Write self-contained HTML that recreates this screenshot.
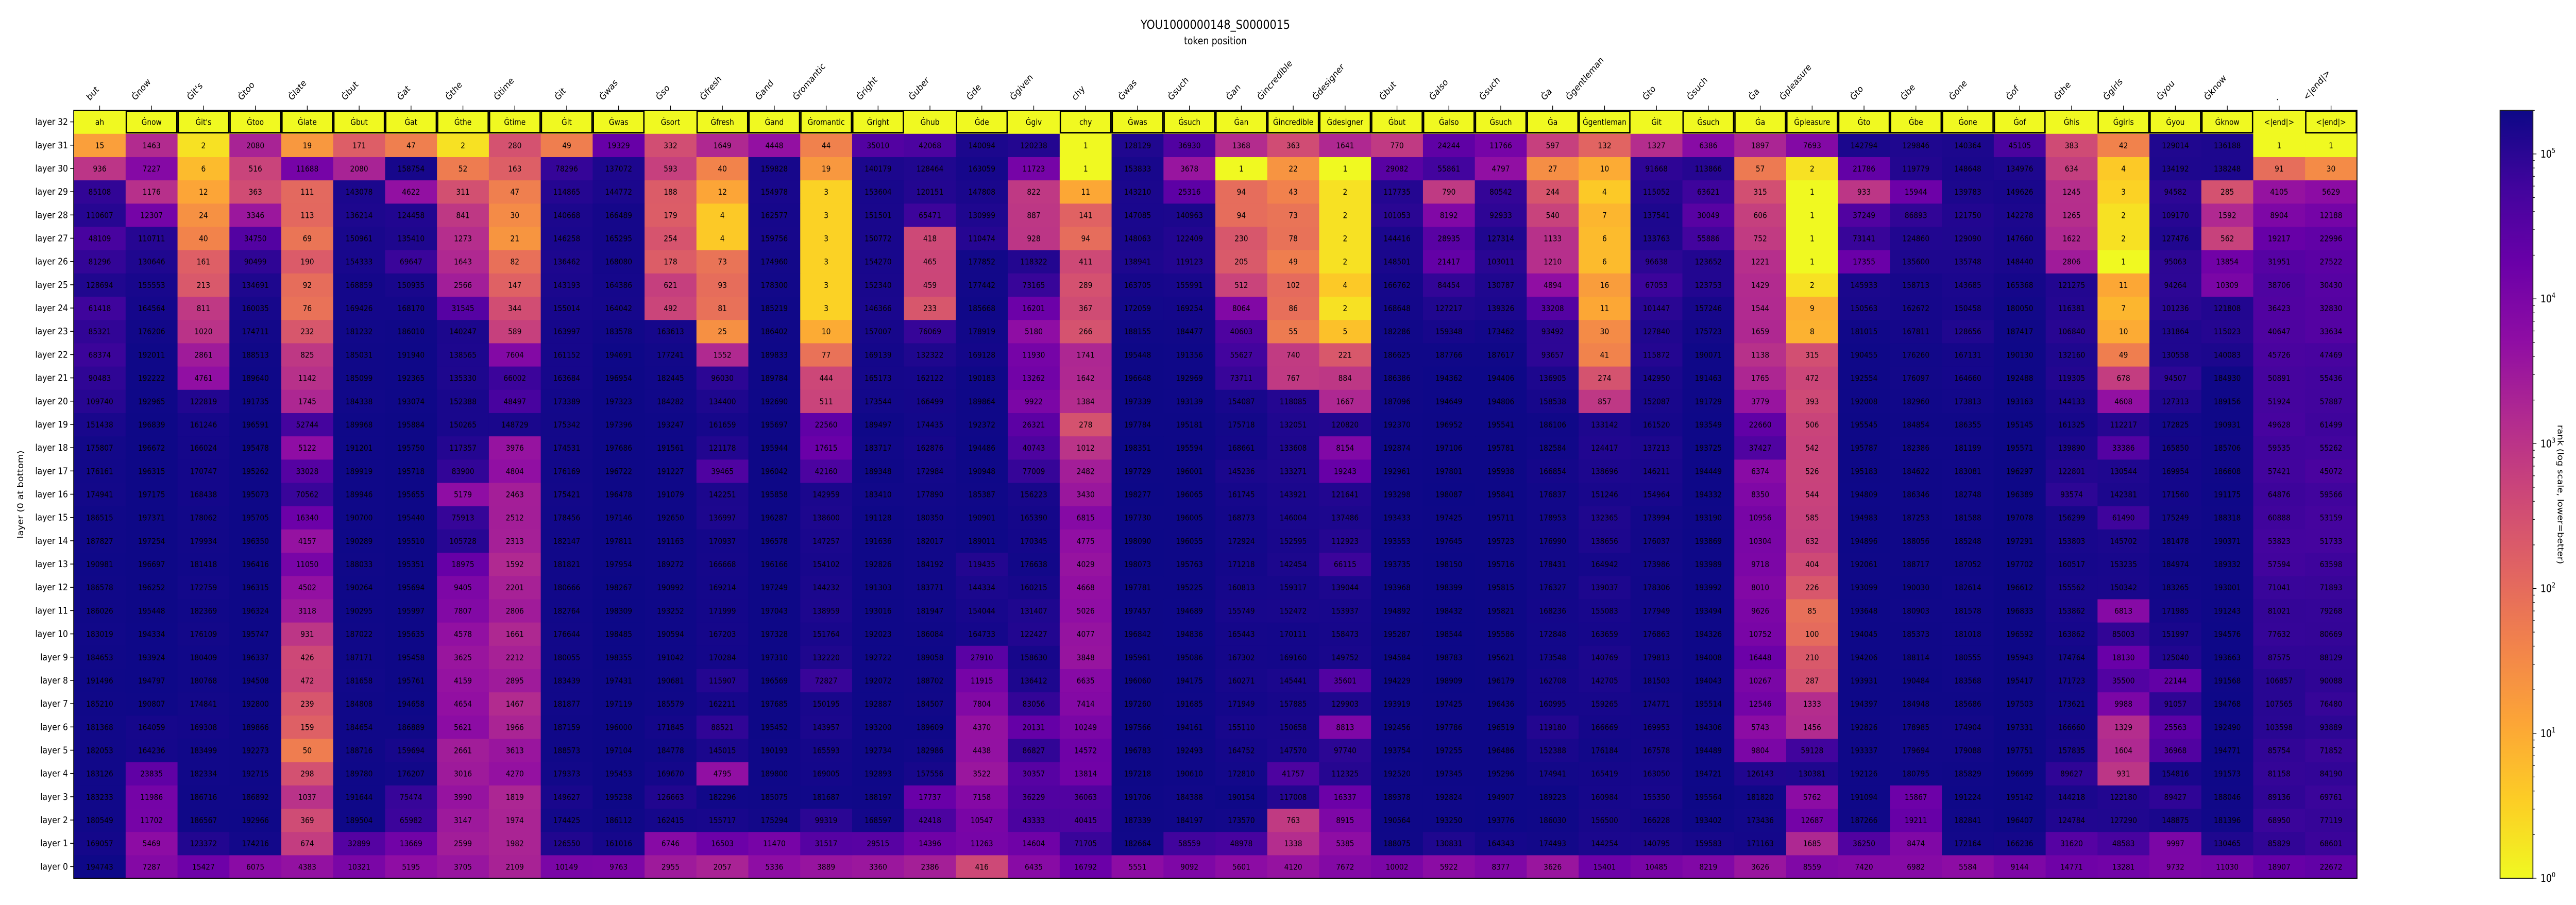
<!DOCTYPE html>
<html><head><meta charset="utf-8">
<style>
html,body{margin:0;padding:0;background:#fff;overflow:hidden;width:100%;height:100%;}
svg{display:block;width:100vw;height:100vh;font-family:"DejaVu Sans","Liberation Sans",sans-serif;}
</style></head>
<body>
<svg id="chart" viewBox="0 0 5799 1757" preserveAspectRatio="none" xmlns="http://www.w3.org/2000/svg">
<text x="2736" y="56" text-anchor="middle" font-size="24">YOU1000000148_S0000015</text>
<text x="2736" y="86" text-anchor="middle" font-size="20">token position</text>
<text transform="translate(52,960) rotate(-90)" text-anchor="middle" font-size="18">layer (0 at bottom)</text>
<text transform="translate(5758,960) rotate(90)" text-anchor="middle" font-size="18">rank (log scale, lower=better)</text>
<defs><linearGradient id="cbgrad" x1="0" y1="1" x2="0" y2="0"></linearGradient></defs>
<g id="cells"></g>
<g id="axes"></g>
<g id="cbar"></g>
</svg>
<script>
const tokens = ["but","Ġnow","Ġit's","Ġtoo","Ġlate","Ġbut","Ġat","Ġthe","Ġtime","Ġit","Ġwas",
"Ġso","Ġfresh","Ġand","Ġromantic","Ġright","Ġuber","Ġde","Ġgiven","chy","Ġwas","Ġsuch",
"Ġan","Ġincredible","Ġdesigner","Ġbut","Ġalso","Ġsuch","Ġa","Ġgentleman","Ġto","Ġsuch","Ġa",
"Ġpleasure","Ġto","Ġbe","Ġone","Ġof","Ġthe","Ġgirls","Ġyou","Ġknow",".","<|end|>"];
const predictions = ["ah","Ġnow","Ġit's","Ġtoo","Ġlate","Ġbut","Ġat","Ġthe","Ġtime","Ġit","Ġwas",
"Ġsort","Ġfresh","Ġand","Ġromantic","Ġright","Ġhub","Ġde","Ġgiv","chy","Ġwas","Ġsuch",
"Ġan","Ġincredible","Ġdesigner","Ġbut","Ġalso","Ġsuch","Ġa","Ġgentleman","Ġit","Ġsuch","Ġa",
"Ġpleasure","Ġto","Ġbe","Ġone","Ġof","Ġhis","Ġgirls","Ġyou","Ġknow","<|end|>","<|end|>"];
const layerLabels = ["layer 0","layer 1","layer 2","layer 3","layer 4","layer 5","layer 6","layer 7","layer 8","layer 9","layer 10","layer 11","layer 12","layer 13","layer 14","layer 15","layer 16","layer 17","layer 18","layer 19","layer 20","layer 21","layer 22","layer 23","layer 24","layer 25","layer 26","layer 27","layer 28","layer 29","layer 30","layer 31","layer 32"];
const colorbarTicks = [0,1,2,3,4,5];
const vmin = 1, vmax = 200400;

const L31=[15,1463,2,2080,19,171,47,2,280,49,19329, 332,1649,4448,44,35010,42068,140094,120238,1,128129,36930, 1368,363,1641,770,24244,11766,597,132,1327,6386,1897, 7693,142794,129846,140364,45105,383,42,129014,136188,1,1];
const L30=[936,7227,6,516,11688,2080,158754,52,163,78296,137072, 593,40,159828,19,140179,128464,163059,11723,1,153833,3678, 1,22,1,29082,55861,4797,27,10,91668,113866,57, 2,21786,119779,148648,134976,634,4,134192,138248,91,30];
const L29=[85108,1176,12,363,111,143078,4622,311,47,114865,144772, 188,12,154978,3,153604,120151,147808,822,11,143210,25316, 94,43,2,117735,790,80542,244,4,115052,63621,315, 1,933,15944,139783,149626,1245,3,94582,285,4105,5629];
const L28=[110607,12307,24,3346,113,136214,124458,841,30,140668,166489, 179,4,162577,3,151501,65471,130999,887,141,147085,140963, 94,73,2,101053,8192,92933,540,7,137541,30049,606, 1,37249,86893,121750,142278,1265,2,109170,1592,8904,12188];
const L27=[48109,110711,40,34750,69,150961,135410,1273,21,146258,165295, 254,4,159756,3,150772,418,110474,928,94,148063,122409, 230,78,2,144416,28935,127314,1133,6,133763,55886,752, 1,73141,124860,129090,147660,1622,2,127476,562,19217,22996];
const L26=[81296,130646,161,90499,190,154333,69647,1643,82,136462,168080, 178,73,174960,3,154270,465,177852,118322,411,138941,119123, 205,49,2,148501,21417,103011,1210,6,96638,123652,1221, 1,17355,135600,135748,148440,2806,1,95063,13854,31951,27522];
const L25=[128694,155553,213,134691,92,168859,150935,2566,147,143193,164386, 621,93,178300,3,152340,459,177442,73165,289,163705,155991, 512,102,4,166762,84454,130787,4894,16,67053,123753,1429, 2,145933,158713,143685,165368,121275,11,94264,10309,38706,30430];
const L24=[61418,164564,811,160035,76,169426,168170,31545,344,155014,164042, 492,81,185219,3,146366,233,185668,16201,367,172059,169254, 8064,86,2,168648,127217,139326,33208,11,101447,157246,1544, 9,150563,162672,150458,180050,116381,7,101236,121808,36423,32830];
const L23=[85321,176206,1020,174711,232,181232,186010,140247,589,163997,183578, 163613,25,186402,10,157007,76069,178919,5180,266,188155,184477, 40603,55,5,182286,159348,173462,93492,30,127840,175723,1659, 8,181015,167811,128656,187417,106840,10,131864,115023,40647,33634];
const L22=[68374,192011,2861,188513,825,185031,191940,138565,7604,161152,194691, 177241,1552,189833,77,169139,132322,169128,11930,1741,195448,191356, 55627,740,221,186625,187766,187617,93657,41,115872,190071,1138, 315,190455,176260,167131,190130,132160,49,130558,140083,45726,47469];
const L21=[90483,192222,4761,189640,1142,185099,192365,135330,66002,163684,196954, 182445,96030,189784,444,165173,162122,190183,13262,1642,196648,192969, 73711,767,884,186386,194362,194406,136905,274,142950,191463,1765, 472,192554,176097,164660,192488,119305,678,94507,184930,50891,55436];
const L20=[109740,192965,122819,191735,1745,184338,193074,152388,48497,173389,197323, 184282,134400,192690,511,173544,166499,189864,9922,1384,197339,193139, 154087,118085,1667,187096,194649,194806,158538,857,152087,191729,3779, 393,192008,182960,173813,193163,144133,4608,127313,189156,51924,57887];
const L19=[151438,196839,161246,196591,52744,189968,195884,150265,148729,175342,197396, 193247,161659,195697,22560,189497,174435,192372,26321,278,197784,195181, 175718,132051,120820,192370,196952,195541,186106,133142,161520,193549,22660, 506,195545,184854,186355,195145,161325,112217,172825,190931,49628,61499];
const L18=[175807,196672,166024,195478,5122,191201,195750,117357,3976,174531,197686, 191561,121178,195944,17615,183717,162876,194486,40743,1012,198351,195594, 168661,133608,8154,192874,197106,195781,182584,124417,137213,193725,37427, 542,195787,182386,181199,195571,139890,33386,165850,185706,59535,55262];
const L17=[176161,196315,170747,195262,33028,189919,195718,83900,4804,176169,196722, 191227,39465,196042,42160,189348,172984,190948,77009,2482,197729,196001, 145236,133271,19243,192961,197801,195938,166854,138696,146211,194449,6374, 526,195183,184622,183081,196297,122801,130544,169954,186608,57421,45072];
const L16=[174941,197175,168438,195073,70562,189946,195655,5179,2463,175421,196478, 191079,142251,195858,142959,183410,177890,185387,156223,3430,198277,196065, 161745,143921,121641,193298,198087,195841,176837,151246,154964,194332,8350, 544,194809,186346,182748,196389,93574,142381,171560,191175,64876,59566];
const L15=[186515,197371,178062,195705,16340,190700,195440,75913,2512,178456,197146, 192650,136997,196287,138600,191128,180350,190901,165390,6815,197730,196005, 168773,146004,137486,193433,197425,195711,178953,132365,173994,193190,10956, 585,194983,187253,181588,197078,156299,61490,175249,188318,60888,53159];
const L14=[187827,197254,179934,196350,4157,190289,195510,105728,2313,182147,197811, 191163,170937,196578,147257,191636,182017,189011,170345,4775,198090,196055, 172924,152595,112923,193553,197645,195723,176990,138656,176037,193869,10304, 632,194896,188056,185248,197291,153803,145702,181478,190371,53823,51733];
const L13=[190981,196697,181418,196416,11050,188033,195351,18975,1592,181821,197954, 189272,166668,196166,154102,192826,184192,119435,176638,4029,198073,195763, 171218,142454,66115,193735,198150,195716,178431,164942,173986,193989,9718, 404,192061,188717,187052,197702,160517,153235,184974,189332,57594,63598];
const L12=[186578,196252,172759,196315,4502,190264,195694,9405,2201,180666,198267, 190992,169214,197249,144232,191303,183771,144334,160215,4668,197781,195225, 160813,159317,139044,193968,198399,195815,176327,139037,178306,193992,8010, 226,193099,190030,182614,196612,155562,150342,183265,193001,71041,71893];
const L11=[186026,195448,182369,196324,3118,190295,195997,7807,2806,182764,198309, 193252,171999,197043,138959,193016,181947,154044,131407,5026,197457,194689, 155749,152472,153937,194892,198432,195821,168236,155083,177949,193494,9626, 85,193648,180903,181578,196833,153862,6813,171985,191243,81021,79268];
const L10=[183019,194334,176109,195747,931,187022,195635,4578,1661,176644,198485, 190594,167203,197328,151764,192023,186084,164733,122427,4077,196842,194836, 165443,170111,158473,195287,198544,195586,172848,163659,176863,194326,10752, 100,194045,185373,181018,196592,163862,85003,151997,194576,77632,80669];
const L9=[184653,193924,180409,196337,426,187171,195458,3625,2212,180055,198355, 191042,170284,197310,132220,192722,189058,27910,158630,3848,195961,195086, 167302,169160,149752,194584,198783,195621,173548,140769,179813,194008,16448, 210,194206,188114,180555,195943,174764,18130,125040,193663,87575,88129];
const L8=[191496,194797,180768,194508,472,181658,195761,4159,2895,183439,197431, 190681,115907,196569,72827,192072,188702,11915,136412,6635,196060,194175, 160271,145441,35601,194229,198909,196179,162708,142705,181503,194043,10267, 287,193931,190484,183568,195417,171723,35500,22144,191568,106857,90088];
const L7=[185210,190807,174841,192800,239,184808,194658,4654,1467,181877,197119, 185579,162211,197685,150195,192887,184507,7804,83056,7414,197260,191685, 171949,157885,129903,193919,197425,196436,160995,159265,174771,195514,12546, 1333,194397,184948,185686,197503,173621,9988,91057,194768,107565,76480];
const L6=[181368,164059,169308,189866,159,184654,186889,5621,1966,187159,196000, 171845,88521,195452,143957,193200,189609,4370,20131,10249,197566,194161, 155110,150658,8813,192456,197786,196519,119180,166669,169953,194306,5743, 1456,192826,178985,174904,197331,166660,1329,25563,192490,103598,93889];
const L5=[182053,164236,183499,192273,50,188716,159694,2661,3613,188573,197104, 184778,145015,190193,165593,192734,182986,4438,86827,14572,196783,192493, 164752,147570,97740,193754,197255,196486,152388,176184,167578,194489,9804, 59128,193337,179694,179088,197751,157835,1604,36968,194771,85754,71852];
const L4=[183126,23835,182334,192715,298,189780,176207,3016,4270,179373,195453, 169670,4795,189800,169005,192893,157556,3522,30357,13814,197218,190610, 172810,41757,112325,192520,197345,195296,174941,165419,163050,194721,126143, 130381,192126,180795,185829,196699,89627,931,154816,191573,81158,84190];
const L3=[183233,11986,186716,186892,1037,191644,75474,3990,1819,149627,195238, 126663,182296,185075,181687,188197,17737,7158,36229,36063,191706,184388, 190154,117008,16337,189378,192824,194907,189223,160984,155350,195564,181820, 5762,191094,15867,191224,195142,144218,122180,89427,188046,89136,69761];
const L2=[180549,11702,186567,192966,369,189504,65982,3147,1974,174425,186112, 162415,155717,175294,99319,168597,42418,10547,43333,40415,187339,184197, 173570,763,8915,190564,193250,193776,186030,156500,166228,193402,173436, 12687,187266,19211,182841,196407,124784,127290,148875,181396,68950,77119];
const L1=[169057,5469,123372,174216,674,32899,13669,2599,1982,126550,161016, 6746,16503,11470,31517,29515,14396,11263,14604,71705,182664,58559, 48978,1338,5385,188075,130831,164343,174493,144254,140795,159583,171163, 1685,36250,8474,172164,166236,31620,48583,9997,130465,85829,68601];
const L0=[194743,7287,15427,6075,4383,10321,5195,3705,2109,10149,9763, 2955,2057,5336,3889,3360,2386,416,6435,16792,5551,9092, 5601,4120,7672,10002,5922,8377,3626,15401,10485,8219,3626, 8559,7420,6982,5584,9144,14771,13281,9732,11030,18907,22672];
const layerRanks=[L0,L1,L2,L3,L4,L5,L6,L7,L8,L9,L10,L11,L12,L13,L14,L15,L16,L17,L18,L19,L20,L21,L22,L23,L24,L25,L26,L27,L28,L29,L30,L31];

const NS="http://www.w3.org/2000/svg";
const plotL=166, plotR=5306, plotT=214, plotB=1705;
const nCols=tokens.length, nRows=layerLabels.length;
const cw=(plotR-plotL)/nCols, ch=(plotB-plotT)/nRows;
function xPos(c){return plotL+c*cw;}
function yPos(layer){return plotT+(nRows-1-layer)*ch;}
const stops=[[0,"#0d0887"],[0.1,"#41049d"],[0.2,"#6a00a8"],[0.3,"#8f0da4"],[0.4,"#b12a90"],[0.5,"#cc4778"],[0.6,"#e16462"],[0.7,"#f2844b"],[0.8,"#fca636"],[0.9,"#fcce25"],[1,"#f0f921"]];
function hex(h){return [parseInt(h.substr(1,2),16),parseInt(h.substr(3,2),16),parseInt(h.substr(5,2),16)];}
function plasma(t){t=Math.max(0,Math.min(1,t));for(let i=0;i<stops.length-1;i++){const a=stops[i],b=stops[i+1];if(t<=b[0]){const f=(t-a[0])/(b[0]-a[0]);const A=hex(a[1]),B=hex(b[1]);return "rgb("+A.map((v,k)=>Math.round(v+(B[k]-v)*f)).join(",")+")";}}return stops[stops.length-1][1];}
function colorScale(v){return plasma(1-Math.log10(v/vmin)/Math.log10(vmax/vmin));}
function mk(tag,attrs,parent){const e=document.createElementNS(NS,tag);for(const k in attrs)e.setAttribute(k,attrs[k]);parent.appendChild(e);return e;}

const cells=document.getElementById("cells");
for(let layer=0;layer<32;layer++){
  const row=layerRanks[layer];
  for(let c=0;c<nCols;c++){
    const v=row[c];
    const r=mk("rect",{x:xPos(c),y:yPos(layer),width:cw+0.6,height:ch+0.6,fill:colorScale(v)},cells);
    
    
    const t=mk("text",{x:xPos(c)+cw/2,y:yPos(layer)+ch/2+6,"text-anchor":"middle","font-size":"16",fill:"#000"},cells);
    
    
    t.textContent=String(v);
  }
}
for(let c=0;c<nCols;c++){
  const r=mk("rect",{x:xPos(c),y:yPos(32),width:cw+0.6,height:ch+0.6,fill:colorScale(1)},cells);
  
  
  const t=mk("text",{x:xPos(c)+cw/2,y:yPos(32)+ch/2+6,"text-anchor":"middle","font-size":"16",fill:"#000"},cells);
  
  
  t.textContent=predictions[c];
}
for(let c=0;c<nCols;c++){
  if(predictions[c]===tokens[c]){
    const b=mk("rect",{x:xPos(c)+1.5,y:yPos(32)+1.5,width:cw-3,height:ch-3,fill:"none",stroke:"#000","stroke-width":"3"},cells);
    
    
  }
}
const axes=document.getElementById("axes");
const frame=mk("rect",{x:plotL,y:plotT,width:plotR-plotL,height:plotB-plotT,fill:"none",stroke:"#000","stroke-width":"2"},axes);


for(let layer=0;layer<nRows;layer++){
  const y=yPos(layer)+ch/2;
  const tk=mk("line",{x1:plotL-8,x2:plotL,y1:y,y2:y,stroke:"#000","stroke-width":"1.5"},axes);
  
  
  const t=mk("text",{x:plotL-13,y:y+6,"text-anchor":"end","font-size":"18"},axes);
  
  
  t.textContent=layerLabels[layer];
}
for(let c=0;c<nCols;c++){
  const x=xPos(c)+cw/2;
  const tk=mk("line",{x1:x,x2:x,y1:plotT-9,y2:plotT,stroke:"#000","stroke-width":"1.5"},axes);
  
  
  const t=mk("text",{transform:"translate("+x+",200) rotate(-45)","font-size":"18"},axes);
  
  
  t.textContent=tokens[c];
  let w=0; try{w=t.getComputedTextLength();}catch(e){w=tokens[c].length*10;}
  if(!w) w=tokens[c].length*10;
  const d=4.2, k=Math.SQRT1_2;
  const tx=x+2-k*(w+d), ty=199-k*d;
  t.setAttribute("transform","translate("+tx+","+ty+") rotate(-45)");
}
// colorbar
const cbL=5628,cbR=5702;
const grad=document.getElementById("cbgrad");
for(let i=0;i<=20;i++){const t=i/20;mk("stop",{offset:t,"stop-color":plasma(1-t)},grad);}
const cbar=document.getElementById("cbar");
const cb=mk("rect",{x:cbL,y:plotT,width:cbR-cbL,height:plotB-plotT,fill:"url(#cbgrad)",stroke:"#222","stroke-width":"2"},cbar);


function cbY(v){return plotB-(Math.log10(v/vmin)/Math.log10(vmax/vmin))*(plotB-plotT);}
for(const e of colorbarTicks){
  for(let m=1;m<10;m++){
    const v=m*Math.pow(10,e); if(v>vmax)break;
    const y=cbY(v);
    const tk=mk("line",{x1:cbR,x2:cbR+(m===1?8:4),y1:y,y2:y,stroke:"#000","stroke-width":"1.2"},cbar);
    
    
  }
  const y=cbY(Math.pow(10,e));
  const t=mk("text",{x:cbR+17,y:y+7,"font-size":"20"},cbar);
  
  
  t.textContent="10";
  const s=mk("tspan",{dy:"-9","font-size":"13"},t);
  s.textContent=String(e);
}
</script>
</body></html>
